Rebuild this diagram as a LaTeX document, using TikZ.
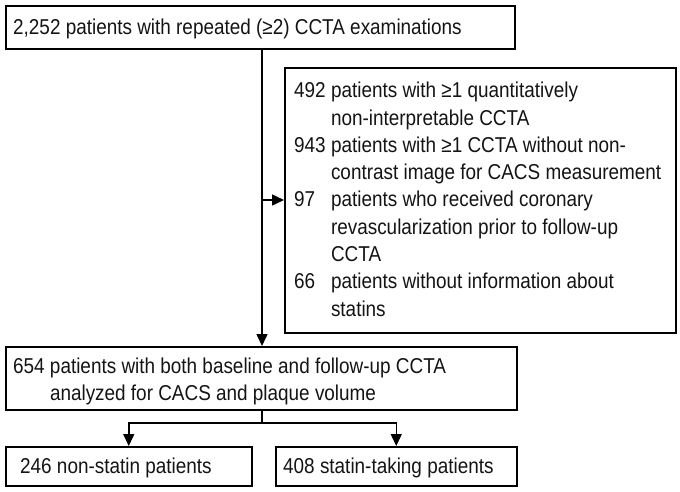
\documentclass[tikz,border=0pt]{standalone}
\usepackage{fontspec}
\setmainfont[FakeStretch=0.88]{Liberation Sans}
\usetikzlibrary{arrows.meta}
\begin{document}
\begin{tikzpicture}[x=1pt,y=-1pt,
  box/.style={draw=black, line width=1.5pt, inner sep=0pt, anchor=north west},
  txt/.style={inner sep=0pt, anchor=base west, font=\fontsize{21.5}{27.3}\selectfont, text=black!92},
  conn/.style={draw=black, line width=1.5pt},
  arr/.style={conn, -{Triangle[length=12pt,width=11pt]}}]
\useasboundingbox (0,0) rectangle (680,491);
% boxes
\node[box, minimum width=509pt, minimum height=43pt] (top) at (5,5) {};
\node[box, minimum width=391pt, minimum height=265pt] (excl) at (284,67) {};
\node[box, minimum width=511pt, minimum height=63pt] (mid) at (5,346) {};
\node[box, minimum width=246pt, minimum height=39pt] (left) at (5,446) {};
\node[box, minimum width=241pt, minimum height=39pt] (right) at (275,446) {};
% texts
\node[txt] (toptext) at (13,34.3) {2,252 patients with repeated (≥2) CCTA examinations};
\node[txt] (excltext) at (294,97.7) {\begin{tabular}[t]{@{}l@{ }l@{}}
492 & patients with ≥1 quantitatively\\
 & non-interpretable CCTA\\
943 & patients with ≥1 CCTA without non-\\
 & contrast image for CACS measurement\\
97 & patients who received coronary\\
 & revascularization prior to follow-up\\
 & CCTA\\
66 & patients without information about\\
 & statins
\end{tabular}};
\node[txt] (midtext) at (13,373.3) {\begin{tabular}[t]{@{}l@{ }l@{}}
654 & patients with both baseline and follow-up CCTA\\
 & analyzed for CACS and plaque volume
\end{tabular}};
\node[txt] (lefttext) at (20,473) {246 non-statin patients};
\node[txt] (righttext) at (283,473) {408 statin-taking patients};
% connectors
\coordinate (vx) at (262,0);
\coordinate (ay) at (0,200);
\coordinate (split) at (262,423);
\draw[arr] (top.south -| vx) -- (mid.north -| vx);
\draw[arr] (vx |- ay) -- (excl.west |- ay);
\draw[conn] (mid.south -| vx) -- (split);
\draw[arr] (split) -| (left.north);
\draw[arr] (split) -| (right.north);
\end{tikzpicture}
\end{document}
